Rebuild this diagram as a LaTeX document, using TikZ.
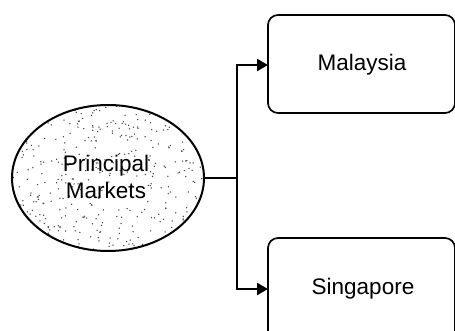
\documentclass[tikz,border=0pt]{standalone}
\usepackage{fontspec}
\setmainfont{Liberation Sans}
\usetikzlibrary{arrows.meta}
\begin{document}
\begin{tikzpicture}[x=1pt,y=-1pt,
  market/.style={draw=black, line width=1.7pt, rounded corners=10pt, fill=white},
  link/.style={draw=black, line width=2.4pt},
  label/.style={font=\fontsize{22.5}{27}\selectfont, align=center, text=black}]
  \useasboundingbox (0,0) rectangle (455,331);
  % stippled ellipse
  \begin{scope}
    \clip (108,178) ellipse [x radius=96, y radius=73];
    \pgfmathsetseed{7}
    \foreach \i in {1,...,420}{
      \pgfmathsetmacro{\px}{12+192*rnd}
      \pgfmathsetmacro{\py}{105+146*rnd}
      \fill[black!75] (\px,\py) circle [radius=0.75];
    }
  \end{scope}
  \draw[line width=2pt] (108,178) ellipse [x radius=96, y radius=73];
  \node[label] (pm) at (106,177) {Principal\\Markets};
  \coordinate (east) at (204,178);
  \coordinate (split) at (237,178);
  % market boxes, right side running off the page
  \draw[market] (268,15) rectangle (455,113);
  \draw[market] (268,238) rectangle (455,345);
  \node[label] (my) at (362,65) {Malaysia};
  \node[label] (sg) at (363,289) {Singapore};
  \coordinate (myin) at (268,65);
  \coordinate (sgin) at (268,289);
  \draw[link] (east) -- (split);
  \draw[link, -{Triangle[length=11pt,width=12pt]}] (split) |- (myin);
  \draw[link, -{Triangle[length=11pt,width=12pt]}] (split) |- (sgin);
\end{tikzpicture}
\end{document}
